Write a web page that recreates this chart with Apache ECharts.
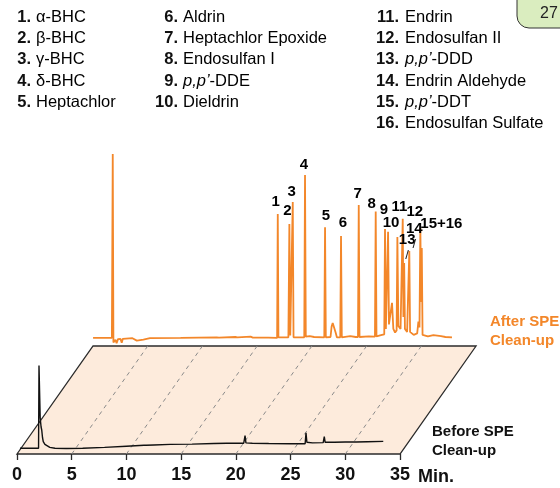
<!DOCTYPE html>
<html>
<head>
<meta charset="utf-8">
<script src="https://cdn.jsdelivr.net/npm/echarts@6/dist/echarts.min.js"></script>
<style>
  html, body { margin: 0; padding: 0; background: #fff; }
  #chart { width: 560px; height: 488px; }
</style>
</head>
<body>
<div id="chart"></div>
<script>
// Retention-time axis, minutes
const timeTicks = [0, 5, 10, 15, 20, 25, 30, 35];

// Compound key (peak number -> analyte)
const compoundNumbers = ['1.', '2.', '3.', '4.', '5.', '6.', '7.', '8.', '9.', '10.',
                         '11.', '12.', '13.', '14.', '15.', '16.'];
const compoundNames = ['α-BHC', 'β-BHC', 'γ-BHC', 'δ-BHC', 'Heptachlor',
                       'Aldrin', 'Heptachlor Epoxide', 'Endosulfan I', 'p,p’-DDE', 'Dieldrin',
                       'Endrin', 'Endosulfan II', 'p,p’-DDD', 'Endrin Aldehyde', 'p,p’-DDT', 'Endosulfan Sulfate'];

// Sample extract before SPE clean-up: [minutes, detector response]
const beforeTrace = [
  [0.27, 1.9], [1.97, 1.9], [2.01, 29.5], [2.12, 12.0], [2.20, 9.0], [2.26, 8.0],
  [2.33, 5.5], [2.40, 4.1], [2.55, 3.2], [2.71, 2.7], [3.00, 2.2], [3.47, 1.9],
  [4.50, 1.85], [6.00, 1.9], [8.00, 2.2], [10.0, 2.6], [11.6, 2.9], [11.7, 3.3],
  [11.8, 2.9], [12.5, 3.0], [14.0, 3.2], [16.0, 3.3], [18.0, 3.5], [19.15, 3.6],
  [19.22, 4.1], [19.30, 3.6], [20.72, 3.6], [20.84, 6.1], [20.92, 3.7], [21.5, 3.6],
  [23.0, 3.5], [25.0, 3.4], [26.33, 3.4], [26.41, 7.1], [26.49, 3.9], [27.0, 3.7],
  [27.98, 3.8], [28.08, 5.8], [28.16, 3.9], [29.0, 3.9], [30.0, 4.0], [31.0, 4.0],
  [31.05, 4.4], [31.12, 4.0], [32.0, 4.1], [33.47, 4.2]
];

// Same extract after SPE clean-up: [minutes, detector response]
const afterTrace = [
  [0.00, 0.0], [1.72, 0.0], [1.80, 61.3], [1.86, -1.5], [1.95, -2.0], [2.05, -0.6],
  [2.15, -1.8], [2.28, -0.4], [2.50, -0.3], [2.62, -1.6], [2.72, -0.3], [3.60, -0.1],
  [4.00, -0.9], [4.60, -0.6], [5.20, -0.1], [8.00, 0.0], [11.3, 0.2], [11.4, 0.6],
  [11.5, 0.1], [13.0, 0.3], [13.1, 0.7], [13.2, 0.2], [14.4, 0.4], [14.5, 0.9],
  [14.6, 0.1], [16.0, 0.1], [16.82, 0.0], [16.88, 41.3], [16.94, 0.2], [17.85, 0.2],
  [17.94, 38.0], [18.02, 0.8], [18.18, 0.4], [18.25, 45.3], [18.32, 0.2], [19.30, 0.2],
  [19.37, 54.3], [19.44, 0.4], [19.80, 0.6], [20.20, 0.3], [21.13, 0.2], [21.20, 36.9],
  [21.27, 0.2], [21.70, 0.3], [21.80, 3.8], [21.90, 5.0], [22.00, 4.5], [22.08, 5.1],
  [22.18, 1.6], [22.28, 0.2], [22.59, 0.2], [22.66, 34.0], [22.73, 0.2], [23.50, 0.6],
  [24.00, 0.3], [24.21, 0.3], [24.28, 44.3], [24.35, 0.3], [25.20, 0.5], [25.76, 0.4],
  [25.83, 42.1], [25.90, 0.5], [26.40, 1.0], [26.61, 1.2], [26.68, 36.3], [26.76, 3.0],
  [26.88, 2.5], [26.96, 35.4], [27.04, 4.5], [27.18, 4.0], [27.32, 11.7], [27.44, 3.0],
  [27.60, 1.8], [27.74, 2.5], [27.81, 33.6], [27.90, 4.0], [28.10, 3.0], [28.22, 3.5],
  [28.30, 39.7], [28.36, 7.0], [28.43, 25.0], [28.50, 3.0], [28.70, 2.0], [28.83, 2.5],
  [28.90, 29.0], [28.97, 2.0], [29.30, 1.0], [29.62, 1.5], [29.73, 5.4], [29.83, 3.5],
  [29.91, 36.6], [29.98, 12.0], [30.04, 30.0], [30.11, 1.0], [30.60, 0.5], [31.10, 0.9],
  [31.20, 0.3], [31.80, 0.6], [32.20, 0.3], [32.80, 0.2]
];

// Identified peaks on the cleaned-up trace
const peakNames = ['1', '2', '3', '4', '5', '6', '7', '8', '9', '10', '11', '12', '13', '14', '15+16'];
const peakTimes = [16.88, 17.94, 18.25, 19.37, 21.20, 22.66, 24.28, 25.83, 26.68, 26.96,
                   27.81, 28.30, 28.43, 28.90, 29.91];

// ---- layout / styling ----
const FONT = "'Liberation Sans', Arial, sans-serif";
const ORANGE = '#F3872A';
const PEACH = '#FDEBDC';
const DEPTH_T = 6.95;      // horizontal shift of the rear trace, in minutes
const DEPTH_Y = 36;        // height of the rear edge of the floor
const AFTER_BASE = 38.7;   // rear trace baseline
const T_END = 35;          // last labelled time
const T_SPAN = 45;         // plotted span (leaves room for the shifted rear trace)
const PX_PER_MIN = 10.943;

// label nudges (px) for peak numbers: [dx, dy] from the apex
const labelNudge = {
  '1': [-2, -12], '2': [-2, -13], '3': [-1, -10], '4': [-1, -10], '5': [1, -11],
  '6': [2, -13], '7': [-1, -11], '8': [-4, -8], '9': [-1, -19], '10': [3, -9],
  '11': [2, -30], '12': [12, -7], '13': [3, -15], '14': [5, -14], '15+16': [21, -4]
};
const withPointer = { '13': true, '14': true };

const chart = echarts.init(document.getElementById('chart'), null, { renderer: 'canvas' });

function signalAt(t) {
  const hit = afterTrace.find(p => p[0] === t);
  return hit ? hit[1] : 0;
}

const labelData = peakNames.map((name, i) => {
  const t = peakTimes[i];
  return {
    name: name,
    value: [t, signalAt(t)],
    label: { offset: labelNudge[name] }
  };
});

// Compound key as text blocks
function nameRich(name) {
  const m = name.match(/^(p,p’)(.*)$/);
  return m ? '{i|' + m[1] + '}{r|' + m[2] + '}' : '{r|' + name + '}';
}
const legendCols = [
  { from: 0, to: 5, numX: 31, nameX: 36 },
  { from: 5, to: 10, numX: 178, nameX: 183 },
  { from: 10, to: 16, numX: 399, nameX: 405 }
];
const legendTop = 17.5, legendStep = 21.2;
const legendGraphics = [];
legendCols.forEach(col => {
  for (let i = col.from; i < col.to; i++) {
    const y = legendTop + (i - col.from) * legendStep;
    legendGraphics.push({
      type: 'text', x: col.numX, y: y,
      style: { text: compoundNumbers[i], font: 'bold 16.5px ' + FONT, fill: '#111',
               align: 'right', verticalAlign: 'middle' }
    });
    legendGraphics.push({
      type: 'text', x: col.nameX, y: y,
      style: {
        text: nameRich(compoundNames[i]), align: 'left', verticalAlign: 'middle',
        rich: {
          r: { fontFamily: FONT, fontSize: 16.5, color: '#111' },
          i: { fontFamily: FONT, fontSize: 16.5, fontStyle: 'italic', color: '#111' }
        }
      }
    });
  }
});

const option = {
  animation: false,
  backgroundColor: '#fff',
  grid: { left: 17, top: 154, width: T_SPAN * PX_PER_MIN, height: 300, containLabel: false },
  xAxis: [
    {
      type: 'value', min: 0, max: T_SPAN,
      axisLine: { show: false },
      axisTick: { show: true, length: 6, customValues: timeTicks,
                  lineStyle: { color: '#2b2b2b', width: 1.3 } },
      splitLine: { show: false },
      axisLabel: { customValues: timeTicks, fontFamily: FONT, fontWeight: 'bold',
                   fontSize: 18, color: '#111', margin: 12 }
    },
    {
      type: 'value', min: -DEPTH_T, max: T_SPAN - DEPTH_T, show: false
    }
  ],
  yAxis: [
    { type: 'value', min: 0, max: 100, show: false },
    { type: 'value', min: -AFTER_BASE, max: 100 - AFTER_BASE, show: false }
  ],
  graphic: legendGraphics.concat([
    {
      type: 'rect', shape: { x: 517, y: -12, width: 60, height: 40, r: [0, 0, 0, 12] },
      style: { fill: '#DAEDBF', stroke: '#333', lineWidth: 1 }
    },
    {
      type: 'text', x: 549, y: 14,
      style: { text: '27', font: '16px ' + FONT, fill: '#222', align: 'center', verticalAlign: 'middle' }
    },
    {
      type: 'text', x: 418, y: 477,
      style: { text: 'Min.', font: 'bold 18px ' + FONT, fill: '#111', align: 'left', verticalAlign: 'middle' }
    },
    {
      type: 'text', x: 490, y: 331.5,
      style: { text: 'After SPE\nClean-up', font: 'bold 15px ' + FONT, lineHeight: 19,
               fill: ORANGE, align: 'left', verticalAlign: 'middle' }
    },
    {
      type: 'text', x: 432, y: 441.5,
      style: { text: 'Before SPE\nClean-up', font: 'bold 15px ' + FONT, lineHeight: 19,
               fill: '#111', align: 'left', verticalAlign: 'middle' }
    }
  ]),
  series: [
    {
      // floor of the stacked view, with dashed time gridlines running to the rear
      type: 'custom',
      xAxisIndex: 0, yAxisIndex: 0,
      clip: false, silent: true, z: 1,
      data: [[0, 0]],
      renderItem: function (params, api) {
        const p = (t, y) => api.coord([t, y]);
        const children = [{
          type: 'polygon',
          shape: { points: [p(0, 0), p(T_END, 0), p(T_END + DEPTH_T, DEPTH_Y), p(DEPTH_T, DEPTH_Y)] },
          style: { fill: PEACH, stroke: '#2b2b2b', lineWidth: 1.3 }
        }];
        timeTicks.slice(1, -1).forEach(t => {
          const a = p(t, 0), b = p(t + DEPTH_T, DEPTH_Y);
          children.push({
            type: 'line',
            shape: { x1: a[0], y1: a[1], x2: b[0], y2: b[1] },
            style: { stroke: '#8a8a8a', lineWidth: 1, lineDash: [4, 4] }
          });
        });
        return { type: 'group', children: children };
      }
    },
    {
      name: 'Before SPE Clean-up',
      type: 'line', xAxisIndex: 0, yAxisIndex: 0,
      data: beforeTrace, showSymbol: false, z: 3,
      lineStyle: { color: '#111', width: 1.4 }
    },
    {
      name: 'After SPE Clean-up',
      type: 'line', xAxisIndex: 1, yAxisIndex: 1,
      data: afterTrace, showSymbol: false, z: 3,
      lineStyle: { color: ORANGE, width: 1.8 }
    },
    {
      type: 'scatter', xAxisIndex: 1, yAxisIndex: 1,
      symbolSize: 0, silent: true, z: 5,
      itemStyle: { color: 'rgba(0,0,0,0)', opacity: 1 },
      data: labelData,
      label: {
        show: true, position: 'inside', color: '#000', textBorderWidth: 0,
        formatter: function (p) {
          return withPointer[p.name] ? '{n|' + p.name + '}\n{s|/}' : '{n|' + p.name + '}';
        },
        rich: {
          n: { fontFamily: FONT, fontWeight: 'bold', fontSize: 15, color: '#000',
               lineHeight: 16, textBorderWidth: 0 },
          s: { fontFamily: FONT, fontSize: 13, color: '#222', lineHeight: 16, textBorderWidth: 0 }
        }
      }
    }
  ]
};

chart.setOption(option);
</script>
</body>
</html>
